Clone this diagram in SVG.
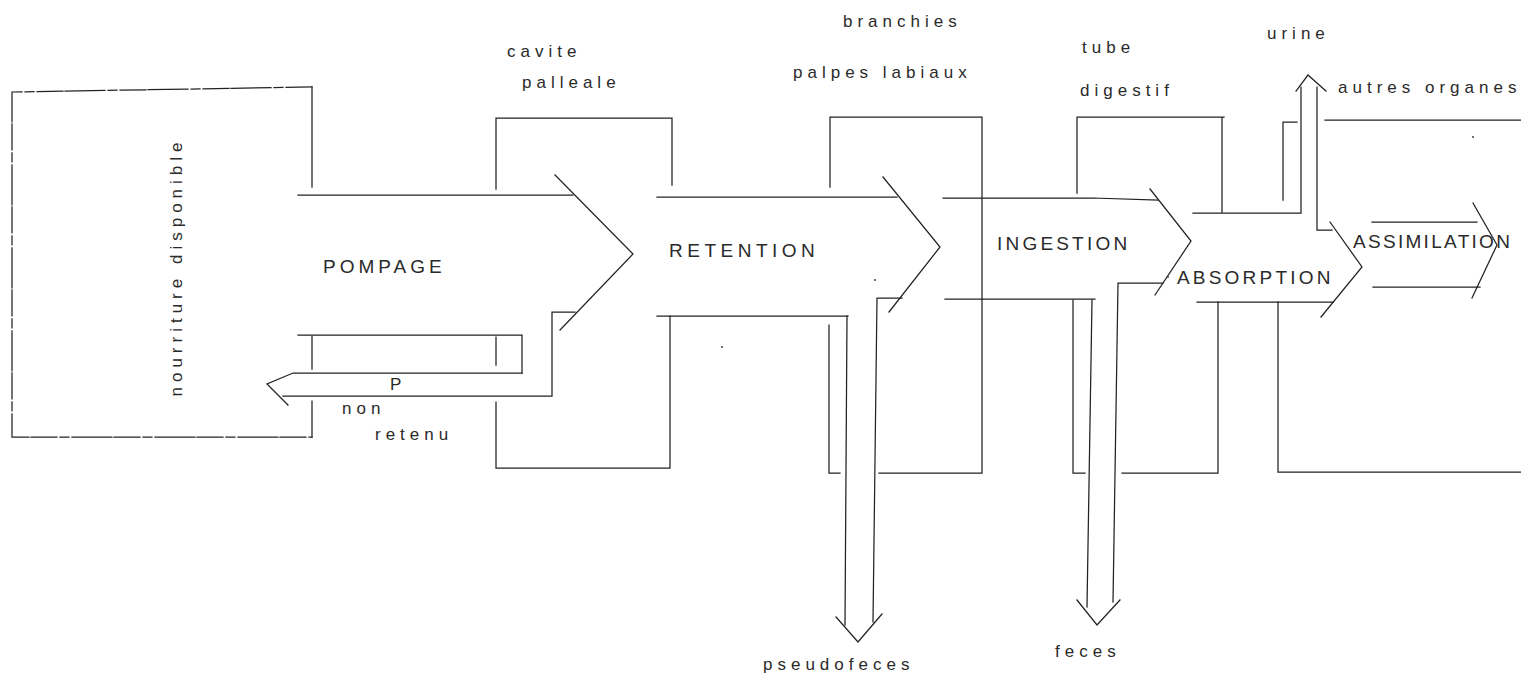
<svg xmlns="http://www.w3.org/2000/svg" width="1521" height="684" viewBox="0 0 1521 684">
<style>
.ln{fill:none;stroke:#222222;stroke-width:1.25;stroke-linecap:square;stroke-linejoin:miter}
.dash{stroke-dasharray:26 3 9 3 40 2}
.lb{font-family:"Liberation Sans","DejaVu Sans",sans-serif;font-size:17px;fill:#2a2a2a;letter-spacing:5px}
.cap{font-family:"Liberation Sans","DejaVu Sans",sans-serif;font-size:19px;fill:#2a2a2a}
.dot{fill:#444}
</style>
<rect x="0" y="0" width="1521" height="684" fill="#ffffff"/>

<g id="nourriture-disponible">
  <path class="ln dash" d="M312,87 L12,92 L12,437 L312,437"/>
  <path class="ln" d="M312,87 L312,187 M312,336 L312,369 M312,401 L312,437"/>
  <text class="lb" transform="translate(182,267) rotate(-90)" text-anchor="middle">nourriture disponible</text>
</g>

<g id="cavite-palleale">
  <path class="ln" d="M496,189 L496,118 L672,118 L672,185"/>
  <path class="ln" d="M670,316 L670,468 L496,468 L496,402"/>
  <text class="lb" x="507" y="57">cavite</text>
  <text class="lb" x="522" y="88">palleale</text>
</g>

<g id="branchies-palpes">
  <path class="ln" d="M830,187 L830,117 L982,117 L982,473 L879,473"/>
  <path class="ln" d="M829,325 L829,473 L840,473"/>
  <text class="lb" x="843" y="27">branchies</text>
  <text class="lb" x="793" y="78">palpes labiaux</text>
</g>

<g id="tube-digestif">
  <path class="ln" d="M1077,193 L1077,117 L1224,117 M1222,117 L1222,212"/>
  <path class="ln" d="M1073,300 L1073,473 L1085,473"/>
  <path class="ln" d="M1122,473 L1218,473 L1218,302"/>
  <text class="lb" x="1082" y="53">tube</text>
  <text class="lb" x="1080" y="96">digestif</text>
</g>

<g id="autres-organes">
  <path class="ln" d="M1325,120 L1521,120"/>
  <path class="ln" d="M1278,302 L1278,472 L1521,472"/>
  <path class="ln" d="M1297,122 L1283,122 L1283,200"/>
  <text class="lb" x="1338" y="93" letter-spacing="6">autres organes</text>
</g>

<g id="connectors">
  <g id="pompage">
    <path class="ln" d="M298,195 L573,195"/>
    <path class="ln" d="M555,175 L633,254 L560,330"/>
    <path class="ln" d="M298,335 L522,335 L522,373 M496,337 L496,365"/>
    <text class="cap" x="323" y="273" letter-spacing="4">POMPAGE</text>
  </g>
  <g id="non-retenu">
    <path class="ln" d="M575,312 L552,312 L552,396 L283,396"/>
    <path class="ln" d="M522,373 L293,373 L267,384 L288,405"/>
    <text class="lb" x="390" y="390" font-size="16" letter-spacing="0">P</text>
    <text class="lb" x="342" y="414">non</text>
    <text class="lb" x="375" y="440">retenu</text>
  </g>
  <g id="retention">
    <path class="ln" d="M657,197 L897,197"/>
    <path class="ln" d="M883,177 L940,247 L889,312"/>
    <path class="ln" d="M657,316 L848,316"/>
    <text class="cap" x="669" y="257" letter-spacing="4.5">RETENTION</text>
  </g>
  <g id="pseudofeces">
    <path class="ln" d="M902,298 L877,298 L873,622"/>
    <path class="ln" d="M847,316 L845,625"/>
    <path class="ln" d="M836,617 L858,642 L882,614"/>
    <text class="lb" x="763" y="670" letter-spacing="4.3">pseudofeces</text>
  </g>
  <g id="ingestion">
    <path class="ln" d="M943,198 L1093,198 L1158,200"/>
    <path class="ln" d="M1150,189 L1191,241 L1155,295"/>
    <path class="ln" d="M945,299 L1095,299"/>
    <text class="cap" x="997" y="250" letter-spacing="3.2">INGESTION</text>
  </g>
  <g id="feces">
    <path class="ln" d="M1163,283 L1118,283 L1113,602"/>
    <path class="ln" d="M1092,300 L1087,607"/>
    <path class="ln" d="M1077,600 L1097,625 L1120,600"/>
    <text class="lb" x="1055" y="657">feces</text>
  </g>
  <g id="absorption">
    <path class="ln" d="M1193,213 L1301,213 L1301,87"/>
    <path class="ln" d="M1332,230 L1317,230 L1317,87"/>
    <path class="ln" d="M1330,222 L1362,267 L1321,317"/>
    <path class="ln" d="M1197,302 L1333,302"/>
    <text class="cap" x="1177" y="284" letter-spacing="3.2">ABSORPTION</text>
  </g>
  <g id="urine">
    <path class="ln" d="M1296,91 L1308,75 L1326,91"/>
    <text class="lb" x="1267" y="39">urine</text>
  </g>
  <g id="assimilation">
    <path class="ln" d="M1372,222 L1477,222"/>
    <path class="ln" d="M1373,287 L1480,287"/>
    <path class="ln" d="M1473,203 L1497,245 L1472,298"/>
    <text class="cap" x="1353" y="248" letter-spacing="2.3">ASSIMILATION</text>
  </g>
</g>

<g id="specks">
  <circle class="dot" cx="875" cy="280" r="1"/>
  <circle class="dot" cx="722" cy="347" r="1"/>
  <circle class="dot" cx="1473" cy="137" r="1"/>
  <circle class="dot" cx="1168" cy="277" r="0.9"/>
</g>
</svg>
